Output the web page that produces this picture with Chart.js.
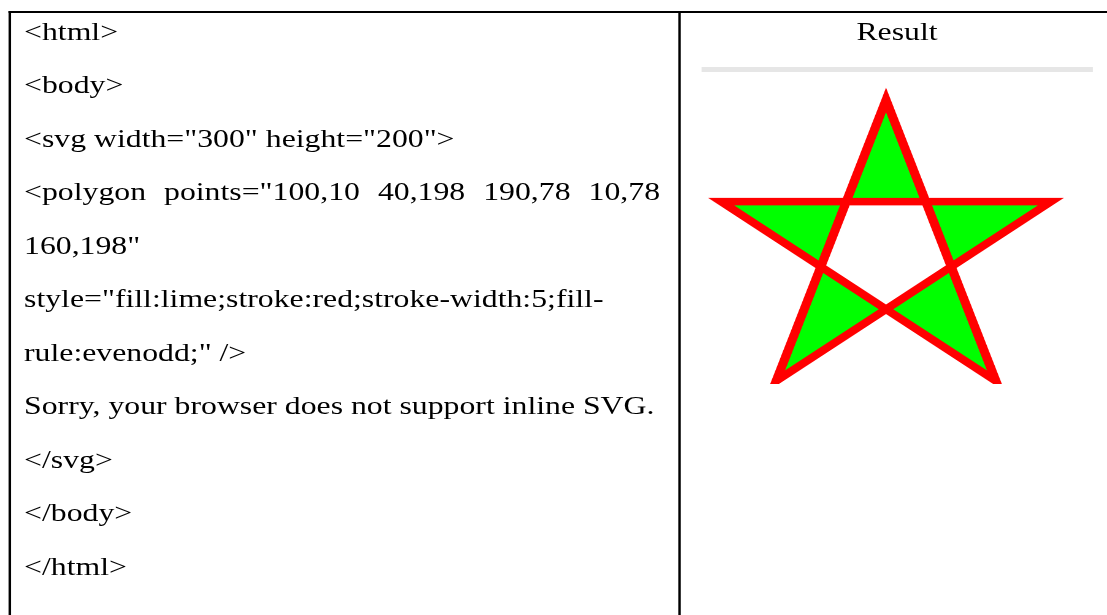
<!DOCTYPE html>
<html>
<head>
<meta charset="utf-8">
<script src="https://cdn.jsdelivr.net/npm/chart.js@4/dist/chart.umd.min.js"></script>
<style>
  html, body { margin: 0; padding: 0; background: #fff; overflow: hidden; }
  /* the reference is stretched sideways, so the whole page is too */
  #page {
    position: absolute; left: 0; top: 0;
    width: 903px; height: 615px;
    transform: scaleX(1.2266); transform-origin: 0 0;
    font-family: "Liberation Serif", "Times New Roman", serif;
    font-size: 25.9px; color: #000;
  }
  .rule { position: absolute; background: #000; }
  #code { position: absolute; left: 19.6px; top: 4.5px; width: 518.5px; }
  #code div { line-height: 53.5px; white-space: pre; }
  #code div.just { white-space: normal; text-align: justify; text-align-last: justify; }
  #head { position: absolute; left: 571.5px; width: 319.6px; top: 4.5px; line-height: 53.5px; text-align: center; }
  #bar { position: absolute; left: 571.5px; width: 319.6px; top: 67px; height: 5px; background: #e6e6e6; }
  #box { position: absolute; left: 573.1px; top: 84.5px; width: 448px; height: 299px; }
</style>
</head>
<body>
<div id="page">
  <div class="rule" style="left:7.3px; top:11px; width:900px; height:2px"></div>
  <div class="rule" style="left:7.3px; top:11px; width:2px; height:610px"></div>
  <div class="rule" style="left:552.6px; top:11px; width:2px; height:610px"></div>
  <div id="code"></div>
  <div id="head"></div>
  <div id="bar"></div>
  <div id="box"><canvas id="star" width="448" height="299"></canvas></div>
</div>
<script>
// texto de la columna izquierda, una entrada por renglon
const codeLines = [
  '<html>',
  '<body>',
  '<svg width="300" height="200">',
  '<polygon points="100,10 40,198 190,78 10,78',
  '160,198"',
  'style="fill:lime;stroke:red;stroke-width:5;fill-',
  'rule:evenodd;" />',
  'Sorry, your browser does not support inline SVG.',
  '</svg>',
  '</body>',
  '</html>'
];
const justifiedLine = 3;
const headTitle = 'Result';

// vertices del poligono (coordenadas svg)
const starX = [100, 40, 190, 10, 160];
const starY = [10, 198, 78, 78, 198];
const svgWidth = 300;
const svgHeight = 200;

const code = document.getElementById('code');
codeLines.forEach((t, i) => {
  const d = document.createElement('div');
  d.textContent = t;
  if (i === justifiedLine) d.className = 'just';
  code.appendChild(d);
});
document.getElementById('head').textContent = headTitle;

// relleno evenodd y poligono cerrado, como lo hace el svg
const evenOdd = {
  id: 'evenOdd',
  beforeDatasetDraw(chart, args) {
    const meta = args.meta;
    const line = meta.dataset;
    line._loop = true;
    line._fullLoop = true;
    line._segments = undefined;
    line._path = undefined;
    const ctx = chart.ctx;
    const a = chart.chartArea;
    ctx.save();
    ctx.beginPath();
    ctx.rect(a.left, a.top, a.right - a.left, a.bottom - a.top);
    ctx.clip();
    ctx.beginPath();
    meta.data.forEach((p, i) => (i ? ctx.lineTo(p.x, p.y) : ctx.moveTo(p.x, p.y)));
    ctx.closePath();
    ctx.fillStyle = chart.data.datasets[args.index].backgroundColor;
    ctx.fill('evenodd');
    ctx.restore();
  }
};

const ctx = document.getElementById('star').getContext('2d');
const chart = new Chart(ctx, {
  type: 'line',
  data: {
    datasets: [{
      data: starX.map((x, i) => ({ x: x, y: starY[i] })),
      borderColor: 'red',
      backgroundColor: 'lime',
      borderWidth: 7.47,
      borderJoinStyle: 'miter',
      fill: false,
      pointRadius: 0,
      tension: 0,
      clip: 0
    }]
  },
  options: {
    responsive: false,
    animation: false,
    devicePixelRatio: 2,
    layout: { padding: 0 },
    plugins: { legend: { display: false }, tooltip: { enabled: false } },
    scales: {
      x: { type: 'linear', min: 0, max: svgWidth, display: false },
      y: { type: 'linear', min: 0, max: svgHeight, reverse: true, display: false }
    }
  },
  plugins: [evenOdd]
});
</script>
</body>
</html>
